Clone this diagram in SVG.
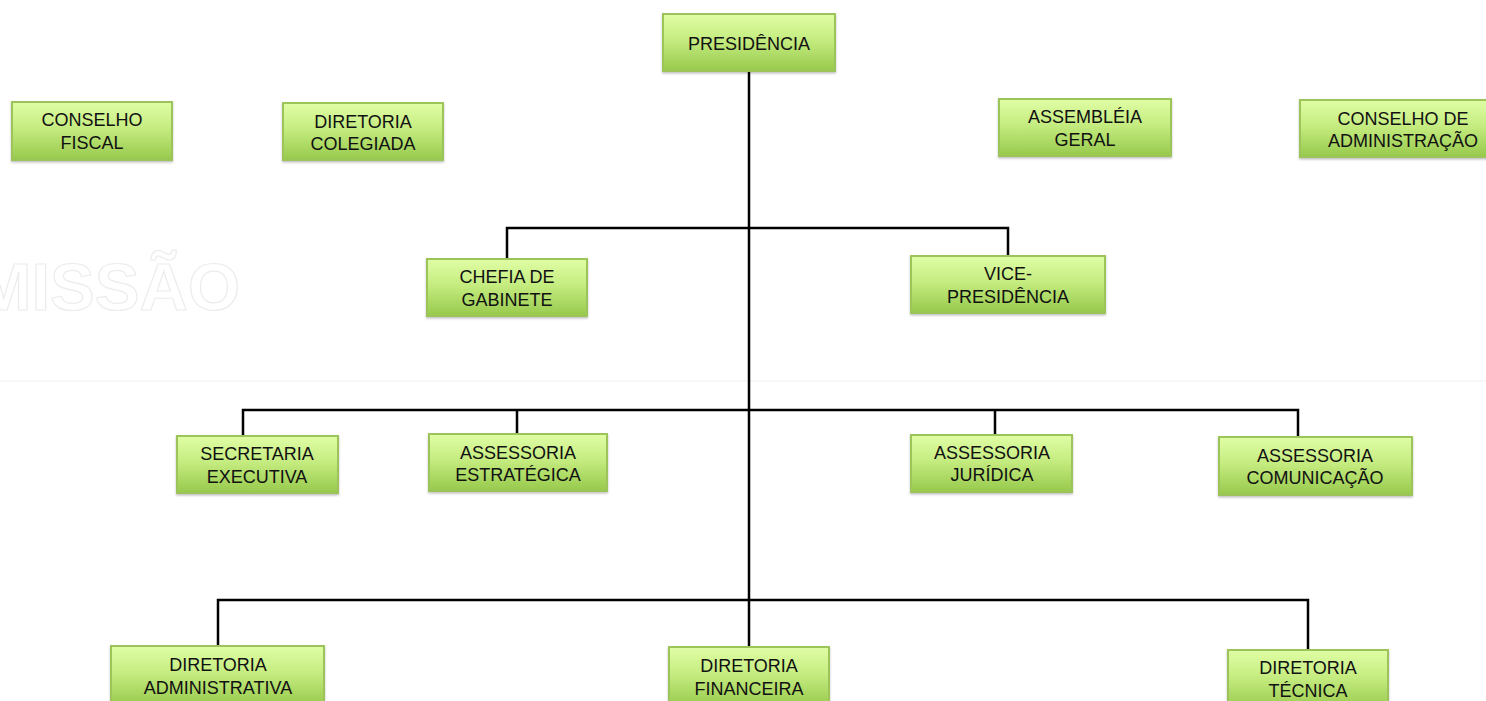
<svg xmlns="http://www.w3.org/2000/svg" width="1486" height="701" viewBox="0 0 1486 701">
<defs>
<linearGradient id="g" x1="0" y1="0" x2="0" y2="1">
<stop offset="0" stop-color="#e0fea6"/>
<stop offset="0.45" stop-color="#c5ec80"/>
<stop offset="1" stop-color="#97c94c"/>
</linearGradient>
<filter id="sh" x="-10%" y="-10%" width="120%" height="130%">
<feDropShadow dx="0" dy="1.5" stdDeviation="1.2" flood-color="#000" flood-opacity="0.25"/>
</filter>
</defs>
<style>
.box{fill:url(#g);stroke:#9cc45a;stroke-width:2;filter:url(#sh)}
.t{font-family:"Liberation Sans",Arial,sans-serif;font-size:18px;fill:#111;text-anchor:middle}
.c{fill:none;stroke:#000;stroke-width:2.5}
.wm{font-family:"Liberation Sans",Arial,sans-serif;font-size:67px;font-weight:bold;fill:#fff;stroke:#ececec;stroke-width:1.2;text-anchor:end}
</style>
<rect width="1486" height="701" fill="#fff"/>
<text class="wm" x="240" y="310">MISSÃO</text>
<line x1="0" y1="381" x2="1486" y2="381" stroke="#f4f4f4" stroke-width="1.5"/>
<g id="connectors">
<path class="c" d="M749 71 V647"/>
<path class="c" d="M507 259 V228 H1008 V256"/>
<path class="c" d="M243 436 V410 H1298 V437 M517 410 V434 M995 410 V435"/>
<path class="c" d="M218 646 V600 H1308 V650"/>
</g>
<g id="presidencia"><rect class="box" x="663" y="14" width="172" height="57"/><text class="t" x="749" y="49.5">PRESIDÊNCIA</text></g>
<g id="conselho-fiscal"><rect class="box" x="12" y="102" width="160" height="58"/><text class="t" x="92" y="125.5">CONSELHO</text><text class="t" x="92" y="148.5">FISCAL</text></g>
<g id="diretoria-colegiada"><rect class="box" x="283" y="103" width="160" height="57"/><text class="t" x="363" y="127.5">DIRETORIA</text><text class="t" x="363" y="149.5">COLEGIADA</text></g>
<g id="assembleia-geral"><rect class="box" x="999" y="99" width="172" height="57"/><text class="t" x="1085" y="122.5">ASSEMBLÉIA</text><text class="t" x="1085" y="145.5">GERAL</text></g>
<g id="conselho-administracao"><rect class="box" x="1300" y="100" width="196" height="57"/><text class="t" x="1403" y="124.5">CONSELHO DE</text><text class="t" x="1403" y="146.5">ADMINISTRAÇÃO</text></g>
<g id="chefia-gabinete"><rect class="box" x="427" y="259" width="160" height="57"/><text class="t" x="507" y="282.5">CHEFIA DE</text><text class="t" x="507" y="305.5">GABINETE</text></g>
<g id="vice-presidencia"><rect class="box" x="911" y="256" width="194" height="57"/><text class="t" x="1008" y="279.5">VICE-</text><text class="t" x="1008" y="302.5">PRESIDÊNCIA</text></g>
<g id="secretaria-executiva"><rect class="box" x="177" y="436" width="161" height="57"/><text class="t" x="257" y="459.5">SECRETARIA</text><text class="t" x="257" y="482.5">EXECUTIVA</text></g>
<g id="assessoria-estrategica"><rect class="box" x="429" y="434" width="178" height="57"/><text class="t" x="518" y="458.5">ASSESSORIA</text><text class="t" x="518" y="480.5">ESTRATÉGICA</text></g>
<g id="assessoria-juridica"><rect class="box" x="911" y="435" width="161" height="57"/><text class="t" x="992" y="458.5">ASSESSORIA</text><text class="t" x="992" y="480.5">JURÍDICA</text></g>
<g id="assessoria-comunicacao"><rect class="box" x="1219" y="437" width="193" height="58"/><text class="t" x="1315" y="461.5">ASSESSORIA</text><text class="t" x="1315" y="483.5">COMUNICAÇÃO</text></g>
<g id="diretoria-administrativa"><rect class="box" x="111" y="646" width="213" height="60"/><text class="t" x="218" y="670.5">DIRETORIA</text><text class="t" x="218" y="693.5">ADMINISTRATIVA</text></g>
<g id="diretoria-financeira"><rect class="box" x="669" y="647" width="160" height="60"/><text class="t" x="749" y="671.5">DIRETORIA</text><text class="t" x="749" y="694.5">FINANCEIRA</text></g>
<g id="diretoria-tecnica"><rect class="box" x="1228" y="650" width="160" height="60"/><text class="t" x="1308" y="673.5">DIRETORIA</text><text class="t" x="1308" y="696.5">TÉCNICA</text></g>
</svg>
